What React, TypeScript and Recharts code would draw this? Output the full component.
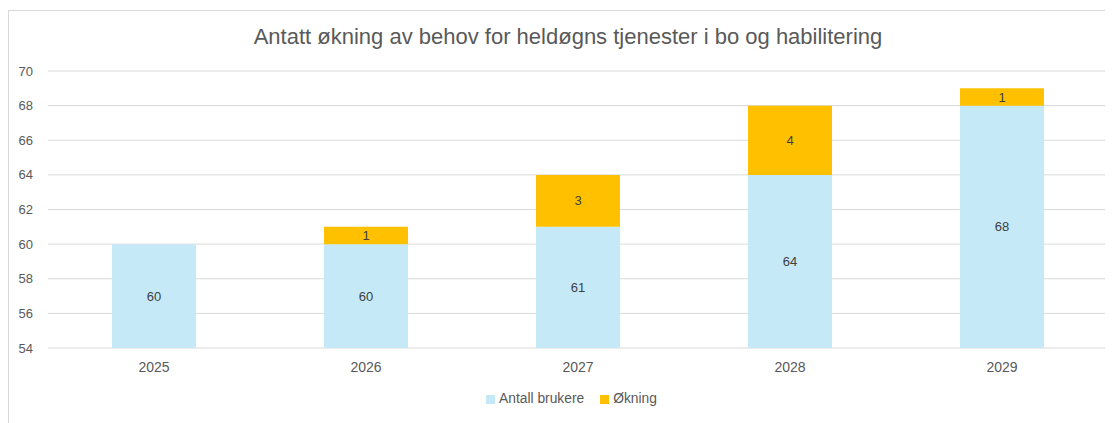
import { BarChart, Bar, XAxis, YAxis, CartesianGrid, LabelList, Legend } from 'recharts'

const years = ['2025', '2026', '2027', '2028', '2029']
const antallBrukere = [60, 60, 61, 64, 68]
const okning: (number | null)[] = [null, 1, 3, 4, 1]
const yTicks = [54, 56, 58, 60, 62, 64, 66, 68, 70]

const data = years.map((year, i) => ({
  year,
  antall: antallBrukere[i],
  okning: okning[i],
}))

const font = '"Liberation Sans", Arial, sans-serif'
const BLUE = '#c6e9f8'
const ORANGE = '#ffc000'

function ChartLegend() {
  const items = [
    { name: 'Antall brukere', color: BLUE },
    { name: 'Økning', color: ORANGE },
  ]
  return (
    <div style={{ display: 'flex', justifyContent: 'center', gap: 16, height: 14, lineHeight: '14px', fontSize: 13.8, color: '#595959', fontFamily: font, paddingLeft: 26 }}>
      {items.map((it) => (
        <div key={it.name} style={{ display: 'flex', alignItems: 'center', gap: 4 }}>
          <span style={{ width: 9, height: 9, background: it.color, display: 'inline-block' }} />
          <span>{it.name}</span>
        </div>
      ))}
    </div>
  )
}

export default function App() {
  return (
    <div
      style={{
        position: 'relative',
        width: 1105,
        height: 420,
        marginTop: 2,
        borderTop: '1px solid #d9d9d9',
        borderLeft: '1px solid #d9d9d9',
        background: '#fff',
        fontFamily: font,
      }}
    >
      <div
        style={{
          position: 'absolute',
          top: 13,
          left: 0,
          width: 1118,
          textAlign: 'center',
          fontSize: 22,
          color: '#595959',
        }}
      >
        Antatt økning av behov for heldøgns tjenester i bo og habilitering
      </div>
      <BarChart
        width={1104}
        height={420}
        data={data}
        margin={{ top: 60, right: 5, left: 0, bottom: 25 }}
        barSize={84}
      >
        <CartesianGrid stroke="#d9d9d9" vertical={false} />
        <XAxis
          dataKey="year"
          axisLine={false}
          tickLine={false}
          tickMargin={8}
          height={44}
          tick={{ fontSize: 14, fill: '#595959', fontFamily: font }}
        />
        <YAxis
          domain={[54, 70]}
          ticks={yTicks}
          allowDataOverflow
          axisLine={false}
          tickLine={false}
          width={39}
          tickMargin={9}
          tick={{ fontSize: 13, fill: '#595959', fontFamily: font }}
        />
        <Legend verticalAlign="bottom" content={() => <ChartLegend />} />
        <Bar dataKey="antall" name="Antall brukere" stackId="a" fill={BLUE} isAnimationActive={false}>
          <LabelList dataKey="antall" position="center" fill="#404040" fontSize={13} fontFamily={font} />
        </Bar>
        <Bar dataKey="okning" name="Økning" stackId="a" fill={ORANGE} isAnimationActive={false}>
          <LabelList dataKey="okning" position="center" fill="#404040" fontSize={13} fontFamily={font} />
        </Bar>
      </BarChart>
    </div>
  )
}
